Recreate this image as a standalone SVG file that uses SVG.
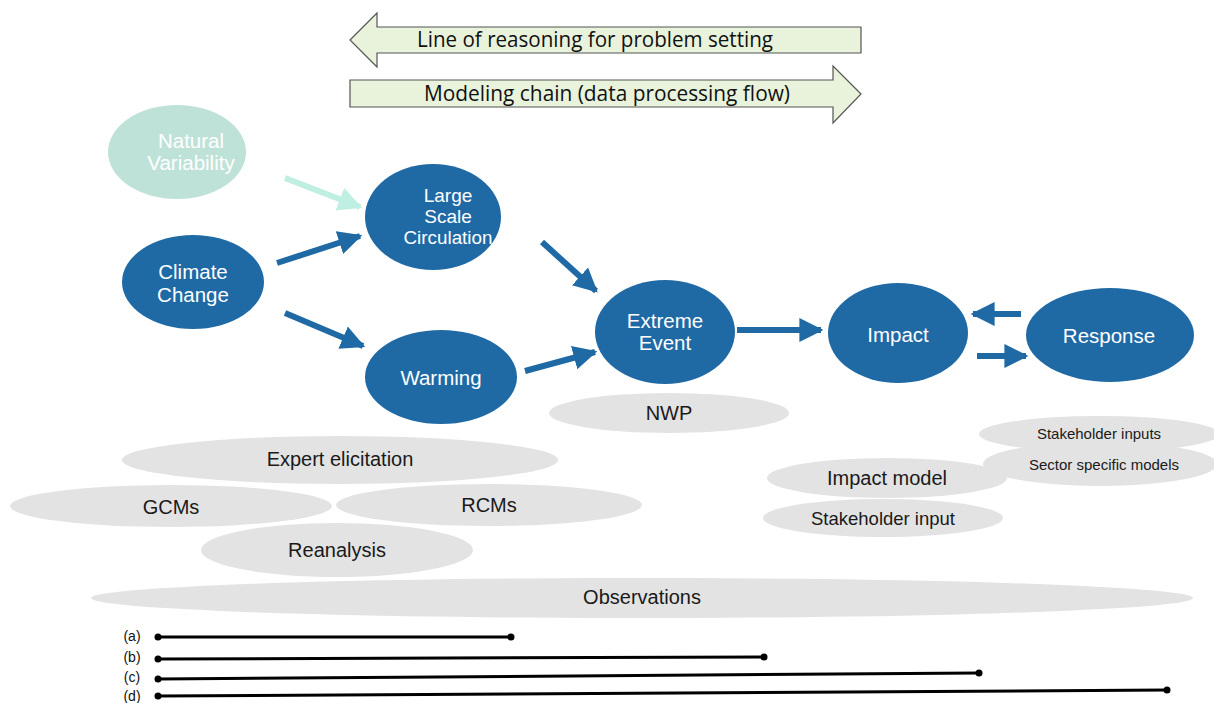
<svg xmlns="http://www.w3.org/2000/svg" width="1214" height="703" viewBox="0 0 1214 703">
<style>
.bn{fill:#1f6aa5}
.nv{fill:#bfe2d8}
.gr{fill:#e3e3e3}
.wt{font-family:"Liberation Sans",Arial,sans-serif;font-size:20.5px;fill:#fff;text-anchor:middle;dominant-baseline:central}
.gt{font-family:"Liberation Sans",Arial,sans-serif;font-size:20px;fill:#1a1a1a;text-anchor:middle;dominant-baseline:central}
.st{font-family:"Liberation Sans",Arial,sans-serif;font-size:15px;fill:#1a1a1a;text-anchor:middle;dominant-baseline:central}
.big{font-family:"Open Sans","Liberation Sans",sans-serif;font-size:21px;fill:#111;text-anchor:middle;dominant-baseline:central}
.lbl{font-family:"Liberation Sans",sans-serif;font-size:14px;fill:#111;text-anchor:middle;dominant-baseline:central}
.ba{fill:#e9f3dc;stroke:#555;stroke-width:1.2}
.cn{stroke:#1f6aa5;stroke-width:6;fill:none}
.tl{stroke:#000;stroke-width:3}
</style>
<defs>
<marker id="ah" viewBox="0 0 10 10" refX="9" refY="5" markerWidth="4" markerHeight="4.4" orient="auto" markerUnits="strokeWidth">
<path d="M0,0 L10,5 L0,10 z" fill="#1f6aa5"/>
</marker>
<marker id="ahl" viewBox="0 0 10 10" refX="9" refY="5" markerWidth="4" markerHeight="4.4" orient="auto" markerUnits="strokeWidth">
<path d="M0,0 L10,5 L0,10 z" fill="#bfeee2"/>
</marker>
</defs>

<g id="banner-reasoning">
<path class="ba" d="M350,40 L377,13 L377,27 L861,27 L861,53 L377,53 L377,67 Z"/>
<text class="big" x="595" y="39" textLength="356" lengthAdjust="spacingAndGlyphs">Line of reasoning for problem setting</text>
</g>
<g id="banner-modeling">
<path class="ba" d="M861,94 L833,66 L833,80 L350,80 L350,107 L833,107 L833,123 Z"/>
<text class="big" x="607" y="93" textLength="366" lengthAdjust="spacingAndGlyphs">Modeling chain (data processing flow)</text>
</g>

<g id="background-ellipses">
<g id="nwp"><ellipse class="gr" cx="669" cy="413" rx="120" ry="20"/><text class="gt" x="669" y="413">NWP</text></g>
<g id="expert"><ellipse class="gr" cx="340" cy="460" rx="218" ry="24"/><text class="gt" x="340" y="459">Expert elicitation</text></g>
<g id="gcms"><ellipse class="gr" cx="171" cy="506" rx="161" ry="21"/><text class="gt" x="171" y="507">GCMs</text></g>
<g id="rcms"><ellipse class="gr" cx="489" cy="505" rx="153" ry="21"/><text class="gt" x="489" y="505">RCMs</text></g>
<g id="reanalysis"><ellipse class="gr" cx="337" cy="550" rx="136" ry="27"/><text class="gt" x="337" y="550">Reanalysis</text></g>
<g id="observations"><ellipse class="gr" cx="642" cy="598" rx="551" ry="20"/><text class="gt" x="642" y="597">Observations</text></g>
<g id="stakeholder-inputs"><ellipse class="gr" cx="1099" cy="434" rx="120" ry="18"/><text class="st" x="1099" y="433">Stakeholder inputs</text></g>
<g id="sector-models"><ellipse class="gr" cx="1100" cy="464" rx="117" ry="22"/><text class="st" x="1104" y="464">Sector specific models</text></g>
<g id="impact-model"><ellipse class="gr" cx="887" cy="478" rx="120" ry="20"/><text class="gt" x="887" y="478">Impact model</text></g>
<g id="stakeholder-input"><ellipse class="gr" cx="883" cy="518" rx="120" ry="19"/><text class="gt" x="883" y="518" style="font-size:18.5px">Stakeholder input</text></g>
</g>

<g id="connectors">
<line x1="285" y1="178" x2="360" y2="207" stroke="#bfeee2" stroke-width="6" marker-end="url(#ahl)"/>
<line class="cn" x1="277" y1="263" x2="360" y2="236" marker-end="url(#ah)"/>
<line class="cn" x1="285" y1="313" x2="363" y2="346" marker-end="url(#ah)"/>
<line class="cn" x1="542" y1="242" x2="596" y2="291" marker-end="url(#ah)"/>
<line class="cn" x1="525" y1="371" x2="595" y2="352" marker-end="url(#ah)"/>
<line class="cn" x1="737" y1="330" x2="821" y2="330" marker-end="url(#ah)"/>
<line class="cn" x1="1021" y1="314" x2="973" y2="314" marker-end="url(#ah)"/>
<line class="cn" x1="977" y1="356" x2="1026" y2="356" marker-end="url(#ah)"/>
</g>

<g id="natural-variability"><ellipse class="nv" cx="177" cy="152" rx="69" ry="47"/><text class="wt" x="191" y="140">Natural</text><text class="wt" x="191" y="162">Variability</text></g>
<g id="climate-change"><ellipse class="bn" cx="193" cy="282" rx="71" ry="47"/><text class="wt" x="193" y="271">Climate</text><text class="wt" x="193" y="294">Change</text></g>
<g id="large-scale-circulation"><ellipse class="bn" cx="433" cy="217" rx="68" ry="53"/><text class="wt" x="448" y="195" style="font-size:19px">Large</text><text class="wt" x="448" y="216" style="font-size:19px">Scale</text><text class="wt" x="448" y="237" style="font-size:19px" textLength="89" lengthAdjust="spacingAndGlyphs">Circulation</text></g>
<g id="warming"><ellipse class="bn" cx="441" cy="377" rx="76" ry="47"/><text class="wt" x="441" y="377">Warming</text></g>
<g id="extreme-event"><ellipse class="bn" cx="665" cy="332" rx="70" ry="52"/><text class="wt" x="665" y="320">Extreme</text><text class="wt" x="665" y="342">Event</text></g>
<g id="impact"><ellipse class="bn" cx="898" cy="333" rx="70" ry="50"/><text class="wt" x="898" y="334">Impact</text></g>
<g id="response"><ellipse class="bn" cx="1110" cy="335" rx="84" ry="47"/><text class="wt" x="1109" y="335">Response</text></g>

<g id="timelines">
<text class="lbl" x="132" y="636">(a)</text>
<line class="tl" x1="158" y1="637" x2="511" y2="637"/><circle cx="158" cy="637" r="3.5"/><circle cx="511" cy="637" r="3.5"/>
<text class="lbl" x="132" y="657">(b)</text>
<line class="tl" x1="158" y1="659" x2="764" y2="657"/><circle cx="158" cy="659" r="3.5"/><circle cx="764" cy="657" r="3.5"/>
<text class="lbl" x="132" y="677">(c)</text>
<line class="tl" x1="158" y1="679" x2="979" y2="673"/><circle cx="158" cy="679" r="3.5"/><circle cx="979" cy="673" r="3.5"/>
<text class="lbl" x="132" y="696">(d)</text>
<line class="tl" x1="158" y1="696" x2="1167" y2="690"/><circle cx="158" cy="696" r="3.5"/><circle cx="1167" cy="690" r="3.5"/>
</g>
</svg>
